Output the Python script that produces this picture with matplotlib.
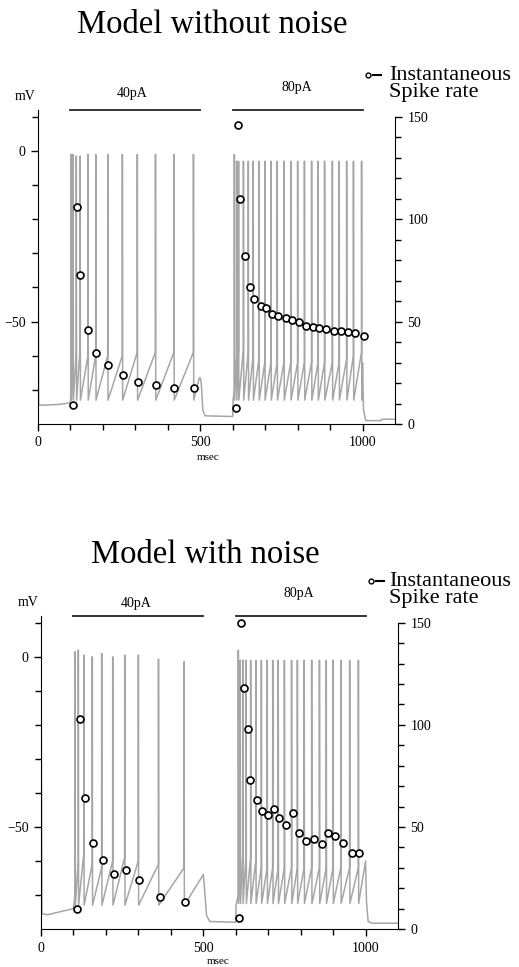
import matplotlib
matplotlib.use('Agg')
import matplotlib.pyplot as plt
import matplotlib.transforms as mtransforms
from matplotlib.lines import Line2D

plt.rcParams['font.family'] = ['Liberation Serif', 'DejaVu Serif']

W, H = 519, 967

# ---------------- model without noise ----------------
# resting / non-spiking parts of the trace (ms, mV)
top_rest_t = [0, 2, 60, 100, 497, 500, 503, 508, 515, 600, 601, 1000, 1003, 1010, 1057, 1059, 1100]
top_rest_v = [0, -74.5, -74.3, -73.8, -66.5, -66.5, -68, -76, -77.6, -77.8, -73, -62, -76, -79, -79, -78.6, -78.6]
# spikes (time, peak, trough after spike, voltage just before spike)
top_spk_t = [102, 108, 118, 130, 154, 178, 215, 260, 306, 362, 419, 479,
             605, 612, 618, 633, 648, 663, 681, 699, 718, 737, 758, 779, 800, 821,
             843, 863, 883, 907, 928, 951, 972, 997]
top_spk_peak = [-1, -1, -1.5, -1.5, -1, -1, -1, -1, -1, -1, -1, -1,
                -1, -3, -3, -3, -3, -3, -3, -3, -3, -3, -3, -3, -3, -3,
                -3, -3, -3, -3, -3, -3, -3, -3]
top_spk_trough = [-73] * 12 + [-73] * 22
top_spk_thr = [-68, -62, -59, -58, -60, -60, -60, -60, -59, -59, -59, -59,
               -70, -60, -58, -58, -59, -60, -61, -62, -62, -62, -62, -62, -62, -62,
               -62, -62, -62, -62, -62, -61, -60, -59]
# instantaneous spike rate (ms, Hz)
top_rate_t = [109, 120, 130, 155, 180, 216, 263, 308, 364, 420, 482,
              609, 617, 622, 638, 653, 667, 686, 704, 722, 741, 763, 784, 805, 825,
              848, 867, 887, 913, 933, 956, 976, 1003]
top_rate = [9.4, 106, 73, 46, 34.5, 28.8, 23.9, 20.7, 19.1, 17.5, 17.5,
            8, 146, 110, 82, 67, 61, 57.6, 56.5, 53.7, 52.7, 51.6, 50.8, 49.6, 48,
            47.5, 46.7, 46.2, 45.6, 45.2, 44.9, 44.2, 43]

# ---------------- model with noise ----------------
bot_rest_t = [0, 3, 20, 100, 497, 500, 503, 510, 520, 600, 601, 1000, 1003, 1008, 1020, 1100]
bot_rest_v = [0, -75.5, -75.8, -74, -64.5, -64, -67, -76, -77.8, -78, -73, -60, -72, -77.8, -78.3, -78.3]
bot_spk_t = [105, 115, 132, 158, 187, 221, 258, 300, 362, 441,
             608, 614, 622, 632, 646, 662, 679, 697, 714, 731, 750, 772, 790,
             811, 834, 858, 879, 900, 924, 951, 978]
bot_spk_peak = [1.5, 2, 0.5, 0, 1, 0, 0.5, 0.5, -0.7, -1.4,
                2, -1, -1, -1, -1, -1, -1, -1, -1, -1, -1, -1, -1,
                -1, -1, -1, -1, -1, -1, -1, -1]
bot_spk_trough = [-73] * 10 + [-72.5] * 21
bot_spk_thr = [-70, -60, -58, -61, -62, -60, -59, -60, -61, -62,
               -70, -60, -58, -58, -59, -60, -62, -62, -62, -62, -62, -62, -62,
               -62, -62, -62, -62, -62, -62, -62, -62]
bot_rate_t = [110, 120, 135, 160, 190, 226, 262, 302, 368, 444,
              611, 616, 626, 637, 645, 667, 681, 698, 717, 733, 755, 775, 794,
              816, 841, 865, 884, 905, 931, 957, 981]
bot_rate = [10, 103, 64, 42, 34, 27, 29, 24, 15.5, 13,
            5.4, 150, 118, 98, 73, 63, 58, 56, 58.6, 54.5, 51, 57, 47,
            43, 44, 41.5, 47, 45.6, 42.3, 37, 37.4]

stim_on = [100, 600]
stim_off = [500, 1000]
stim_labels = ['40pA', '80pA']

V_MIN, V_MAX = -80, 12
RATE_MAX = (V_MAX - V_MIN) * 5 / 3

fig = plt.figure(figsize=(W / 100, H / 100), dpi=100)


def px(x, y):
    return x / W, 1 - y / H


def build_trace(rest_t, rest_v, spk_t, peak, trough, thr):
    pts = list(zip(rest_t, rest_v))
    for t, p, tr, th in zip(spk_t, peak, trough, thr):
        pts += [(t - 0.3, th), (t, p), (t + 0.8, tr)]
    pts.sort()
    return [p[0] for p in pts], [p[1] for p in pts]


def panel(left, top, bottom, trace, rate_t, rate):
    ax = fig.add_axes([left / W, 1 - bottom / H, 357 / W, (bottom - top) / H])
    t, v = build_trace(*trace)
    ax.plot(t, v, color='#a6a6a6', lw=1.1)
    ax.set_xlim(0, 1100)
    ax.set_ylim(V_MIN, V_MAX)
    for s in ['top', 'right']:
        ax.spines[s].set_visible(False)
    ax.set_xticks([0, 500, 1000])
    ax.set_xticks([100, 200, 300, 400, 600, 700, 800, 900], minor=True)
    ax.set_yticks([-50, 0])
    ax.set_yticklabels(['\u221250', '0'])
    ax.set_yticks([-70, -60, -40, -30, -20, -10, 10], minor=True)
    ax.tick_params(which='both', direction='out', width=1, labelsize=10)
    ax.tick_params(which='major', length=5, pad=4)
    ax.tick_params(which='minor', length=4)

    ax2 = ax.twinx()
    ax2.set_ylim(0, RATE_MAX)
    for s in ['top', 'left', 'bottom']:
        ax2.spines[s].set_visible(False)
    ax2.spines['right'].set_bounds(0, 150)
    ax2.set_yticks([0, 50, 100, 150])
    ax2.set_yticks([v for v in range(10, 150, 10) if v % 50], minor=True)
    ax2.tick_params(which='both', direction='out', width=1, labelsize=10)
    ax2.tick_params(which='major', length=5, pad=4)
    ax2.tick_params(which='minor', length=4)
    ax2.plot(rate_t, rate, 'o', ls='none', ms=5, mfc='white', mec='black', mew=1.2)

    # stimulus bars on the top edge
    tr = mtransforms.blended_transform_factory(ax.transData, ax.transAxes)
    for on, off in zip(stim_on, stim_off):
        ax.plot([on, off], [1.0, 1.0], color='#222222', lw=1.3, transform=tr, clip_on=False)
    return ax


panel(38, 110, 424,
      (top_rest_t, top_rest_v, top_spk_t, top_spk_peak, top_spk_trough, top_spk_thr),
      top_rate_t, top_rate)
panel(41, 616, 929,
      (bot_rest_t, bot_rest_v, bot_spk_t, bot_spk_peak, bot_spk_trough, bot_spk_thr),
      bot_rate_t, bot_rate)

# texts
fig.text(*px(212, 25), 'Model without noise', fontsize=23.5, ha='center', va='center')
fig.text(*px(205, 555), 'Model with noise', fontsize=23.5, ha='center', va='center')

for x40, y40, x80, y80, xm, ym, xs, ys in [(132, 93, 297, 88, 25, 97, 208, 458),
                                           (136, 603, 299, 593, 28, 603, 218, 961)]:
    fig.text(*px(x40, y40), stim_labels[0], fontsize=10, ha='center', va='center')
    fig.text(*px(x80, y80), stim_labels[1], fontsize=10, ha='center', va='center')
    fig.text(*px(xm, ym), 'mV', fontsize=10, ha='center', va='center')
    fig.text(*px(xs, ys), 'msec', fontsize=8, ha='center', va='center')

for y0, xm in [(75, 368), (581, 371)]:
    fig.text(*px(389, y0), 'Instantaneous', fontsize=16, ha='left', va='center')
    fig.text(*px(389, y0 + 18), 'Spike rate', fontsize=16, ha='left', va='center')
    fig.add_artist(Line2D([xm / W], [1 - y0 / H], marker='o', ms=3.5, mfc='white',
                          mec='black', mew=1.0, transform=fig.transFigure))
    fig.add_artist(Line2D([(xm + 5) / W, (xm + 13) / W], [1 - y0 / H, 1 - y0 / H],
                          color='black', lw=1.5, transform=fig.transFigure))

fig.savefig('out.png', dpi=100)
